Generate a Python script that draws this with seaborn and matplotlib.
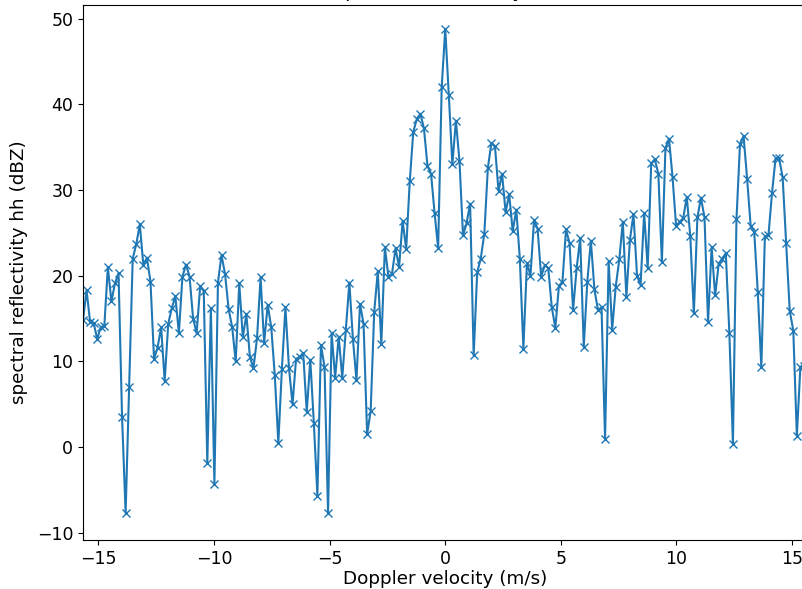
import numpy as np
import pandas as pd
import matplotlib
matplotlib.use("Agg")
import matplotlib.pyplot as plt
import seaborn as sns

# Doppler velocity bin spacing (m/s) and bin indices
dv = 0.1536
bin_index = np.arange(-102, 102)

# spectral reflectivity hh (dBZ), one value per velocity bin
reflectivity = [
    14.8, 18.3, 14.6, 14.5, 12.6, 14.0, 14.1, 21.0, 17.0, 19.1,
    20.3, 3.5, -7.7, 7.0, 22.0, 23.7, 26.0, 21.2, 22.1, 19.3,
    10.3, 11.6, 14.0, 7.7, 14.4, 16.2, 17.6, 13.3, 19.9, 21.3,
    19.9, 15.0, 13.3, 18.8, 18.2, -1.9, 16.2, -4.3, 19.2, 22.4,
    20.2, 16.1, 14.0, 10.0, 19.1, 12.8, 15.5, 10.5, 9.2, 12.7,
    19.8, 12.1, 16.6, 14.0, 8.4, 0.5, 9.1, 16.3, 9.2, 5.0,
    10.3, 10.5, 11.0, 4.1, 10.2, 2.8, -5.7, 11.9, 9.4, -7.7,
    13.3, 8.1, 12.9, 8.1, 13.7, 19.2, 12.6, 7.8, 16.7, 14.4,
    1.5, 4.2, 15.8, 20.5, 12.0, 23.3, 19.9, 20.2, 23.2, 21.0,
    26.4, 23.1, 31.0, 36.8, 38.3, 38.9, 37.2, 32.8, 31.9, 27.3,
    23.2, 42.0, 48.8, 41.1, 33.0, 38.1, 33.4, 24.7, 26.1, 28.4,
    10.7, 20.4, 22.0, 24.9, 32.6, 35.5, 35.1, 29.9, 31.9, 27.4,
    29.5, 25.2, 27.7, 22.0, 11.5, 21.5, 20.0, 26.5, 25.5, 19.9,
    21.2, 20.9, 16.3, 13.9, 18.8, 19.3, 25.4, 23.8, 16.0, 20.9,
    24.4, 11.7, 19.3, 24.1, 18.4, 16.0, 16.3, 0.9, 21.7, 13.7,
    18.7, 21.9, 26.3, 17.5, 24.2, 27.2, 20.0, 18.9, 27.3, 20.9,
    33.1, 33.6, 31.9, 21.6, 34.9, 36.0, 31.5, 25.8, 26.3, 26.7,
    29.2, 24.6, 15.6, 26.8, 29.1, 26.8, 14.6, 23.3, 17.7, 21.4,
    22.0, 22.6, 13.3, 0.4, 26.6, 35.4, 36.3, 31.3, 25.8, 25.1,
    18.1, 9.3, 24.6, 24.7, 29.6, 33.7, 33.7, 31.5, 23.8, 15.9,
    13.6, 1.3, 9.4, 9.5,
]

x_ticks = [-15, -10, -5, 0, 5, 10, 15]
y_ticks = [-10, 0, 10, 20, 30, 40, 50]

velocity = bin_index * dv
df = pd.DataFrame({"velocity": velocity, "refl": reflectivity})

W, H = 803, 589
fig = plt.figure(figsize=(W / 100, H / 100), dpi=100)
ax = fig.add_axes([83 / W, (H - 540) / H, (807.5 - 83) / W, (540 - 5) / H])

color = "#1f77b4"
sns.lineplot(data=df, x="velocity", y="refl", ax=ax, color=color,
             marker="x", markersize=6, mec=color, mew=1.0,
             linewidth=1.5, estimator=None, sort=False)

ax.set_xlim(-102 * dv, 102 * dv)
ax.set_ylim(-10.85, 51.6)
ax.set_xticks(x_ticks)
ax.set_yticks(y_ticks)
ax.tick_params(labelsize=12.5)
ax.set_xlabel("Doppler velocity (m/s)", fontsize=13.2, labelpad=1.5)
ax.set_ylabel("spectral reflectivity hh (dBZ)", fontsize=13.2, labelpad=6)
ax.set_title("spectral reflectivity hh", fontsize=14)

fig.savefig("out.png", dpi=100)
